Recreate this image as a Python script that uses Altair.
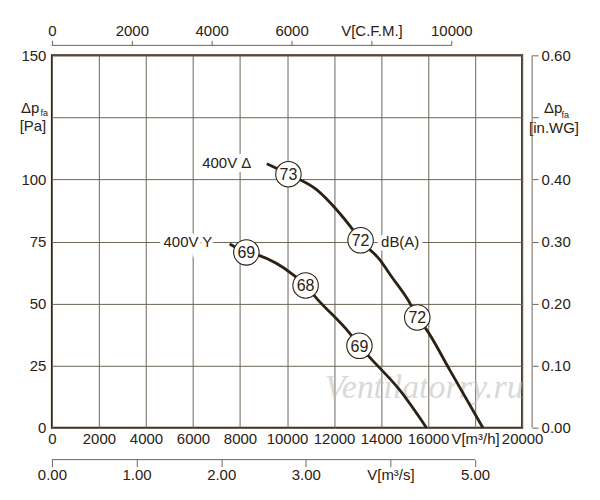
import altair as alt
import pandas as pd

# ---------------- data ----------------
flow_ticks = [0, 2000, 4000, 6000, 8000, 10000, 12000, 14000, 16000, 18000, 20000]
pa_ticks = [0, 25, 50, 75, 100, 125, 150]
cfm_ticks = [0, 2000, 4000, 6000, 8000, 10000]
m3s_ticks = [0, 1, 2, 3, 4, 5]
inwg_ticks = [0.0, 0.1, 0.2, 0.3, 0.4, 0.5, 0.6]

# 400V delta curve
delta_flow = [9140, 10060, 11270, 12110, 12750, 13130, 13950, 14450, 15230, 15540, 15940, 16920, 18330]
delta_pa = [106.3, 102.1, 95.8, 87.8, 80.4, 75.5, 67.6, 60.8, 50.1, 44.4, 39.4, 23.3, 0]
# 400V star curve
star_flow = [7560, 8270, 8830, 10250, 10790, 11240, 12660, 13080, 13510, 14780, 15930]
star_pa = [74.0, 70.6, 69.3, 61.7, 57.3, 52.3, 38.1, 33.0, 28.4, 15.3, 0]

# noise level markers dB(A)
noise_flow = [10060, 13130, 15540, 8270, 10790, 13080]
noise_pa = [102.1, 75.5, 44.4, 70.6, 57.3, 33.0]
noise_db = ["73", "72", "72", "69", "68", "69"]

# curve labels
rlabel_text = ["400V Δ", "400V Y"]
rlabel_flow = [8480, 6824]
rlabel_pa = [106.7, 75]
llabel_text = ["dB(A)"]
llabel_flow = [14000]
llabel_pa = [75]

watermark_text = ["Ventilatorry.ru"]
watermark_flow = [15840]
watermark_pa = [12.1]

M3H_PER_CFM = 1.699
M3H_PER_M3S = 3600.0

# ---------------- style ----------------
FONT = "Liberation Sans"
INK = "#2b2114"
GRID = "#6e6458"
W, H = 471, 373

xs = alt.Scale(domain=[0, 20000], nice=False, zero=False)
ys = alt.Scale(domain=[0, 150], nice=False, zero=False)

curves = pd.DataFrame({
    "flow": delta_flow + star_flow,
    "pa": delta_pa + star_pa,
    "series": ["delta"] * len(delta_flow) + ["star"] * len(star_flow),
})
noise = pd.DataFrame({"flow": noise_flow, "pa": noise_pa, "db": noise_db})
rlab = pd.DataFrame({"flow": rlabel_flow, "pa": rlabel_pa, "t": rlabel_text})
llab = pd.DataFrame({"flow": llabel_flow, "pa": llabel_pa, "t": llabel_text})
wm = pd.DataFrame({"flow": watermark_flow, "pa": watermark_pa, "t": watermark_text})
grid_df = pd.DataFrame({"flow": [flow_ticks[0], flow_ticks[-1]], "pa": [pa_ticks[0], pa_ticks[-1]]})


def X():
    return alt.X("flow:Q", scale=xs, axis=None)


def Y():
    return alt.Y("pa:Q", scale=ys, axis=None)


# main axes + grid (invisible carrier marks)
base_axes = alt.Chart(grid_df).mark_point(opacity=0).encode(
    x=alt.X("flow:Q", scale=xs,
            axis=alt.Axis(orient="bottom", values=flow_ticks, format="d",
                          labelExpr="datum.value == 18000 ? 'V[m³/h]' : datum.label",
                          grid=True, ticks=False, domain=False, labelPadding=4,
                          labelFontSize=15, labelColor=INK, labelFont=FONT,
                          gridColor=GRID, gridWidth=1, gridOpacity=1, title=None,
                          labelOverlap=False, labelFlush=False)),
    y=alt.Y("pa:Q", scale=ys,
            axis=alt.Axis(orient="left", values=pa_ticks, format="d",
                          labelExpr="datum.value == 125 ? '' : datum.label",
                          grid=True, ticks=False, domain=False, labelPadding=6,
                          labelFontSize=15, labelColor=INK, labelFont=FONT,
                          gridColor=GRID, gridWidth=1, gridOpacity=1, title=None,
                          labelOverlap=False, labelFlush=False)),
)

watermark = alt.Chart(wm).mark_text(font="Liberation Serif", fontStyle="italic", fontSize=34,
                                    color="#c0c0c0", opacity=0.6, align="center",
                                    baseline="alphabetic").encode(x=X(), y=Y(), text="t:N")

lines = alt.Chart(curves).mark_line(color=INK, strokeWidth=2.8, interpolate="monotone").encode(
    x=X(), y=Y(), detail="series:N")

circles = alt.Chart(noise).mark_point(shape="circle", filled=True, fill="white", stroke=INK,
                                      strokeWidth=1.1, size=650, opacity=1).encode(x=X(), y=Y())
circle_text = alt.Chart(noise).mark_text(fontSize=16, font=FONT, color=INK, baseline="middle",
                                         align="center", dy=1).encode(x=X(), y=Y(), text="db:N")


def halo_pair(df, align):
    halo = alt.Chart(df).mark_text(fontSize=15, font=FONT, color="white", stroke="white",
                                   strokeWidth=8, align=align, baseline="middle").encode(
        x=X(), y=Y(), text="t:N")
    txt = alt.Chart(df).mark_text(fontSize=15, font=FONT, color=INK, align=align,
                                  baseline="middle").encode(x=X(), y=Y(), text="t:N")
    return [halo, txt]


def unit_label(text, x, y, size, align):
    return alt.Chart(pd.DataFrame({"t": [text]})).mark_text(
        fontSize=size, font=FONT, color=INK, align=align, baseline="middle").encode(
        x=alt.value(x), y=alt.value(y), text="t:N")


units = [
    unit_label("Δp", -12.5, 53, 15, "right"),
    unit_label("fa", -11.5, 58, 9, "left"),
    unit_label("[Pa]", -19, 71, 15, "center"),
    unit_label("Δp", W + 22, 53, 15, "left"),
    unit_label("fa", W + 39.5, 60, 9, "left"),
    unit_label("[in.WG]", W + 32, 73, 15, "center"),
]

# top axis: C.F.M.
cfm = alt.Chart(pd.DataFrame({"a": [cfm_ticks[0]], "b": [cfm_ticks[-1]]})).mark_rule(
    color=GRID, strokeWidth=1).encode(
    x=alt.X("a:Q", scale=alt.Scale(domain=[0, 20000 / M3H_PER_CFM], nice=False, zero=False),
            axis=alt.Axis(orient="top", offset=10, values=cfm_ticks, format="d",
                          labelExpr="datum.value == 8000 ? 'V[C.F.M.]' : datum.label",
                          tickSize=5, tickColor=GRID, domain=False, grid=False,
                          labelPadding=2, title=None, labelFlush=False, labelOverlap=False,
                          labelFontSize=15, labelColor=INK, labelFont=FONT)),
    x2="b:Q",
    y=alt.value(-10),
)

# bottom axis: m3/s
m3s = alt.Chart(pd.DataFrame({"a": [m3s_ticks[0]], "b": [m3s_ticks[-1]]})).mark_rule(
    color=GRID, strokeWidth=1).encode(
    x=alt.X("a:Q", scale=alt.Scale(domain=[0, 20000 / M3H_PER_M3S], nice=False, zero=False),
            axis=alt.Axis(orient="bottom", offset=32, values=m3s_ticks, format=".2f",
                          labelExpr="datum.value == 4 ? 'V[m³/s]' : datum.label",
                          tickSize=7, tickColor=GRID, domain=False, grid=False,
                          labelPadding=1, title=None, labelFlush=False, labelOverlap=False,
                          labelFontSize=15, labelColor=INK, labelFont=FONT)),
    x2="b:Q",
    y=alt.value(H + 32),
)

# right axis: in.WG
inwg = alt.Chart(pd.DataFrame({"a": [inwg_ticks[0]], "b": [inwg_ticks[-1]]})).mark_rule(
    color=GRID, strokeWidth=1).encode(
    y=alt.Y("a:Q", scale=alt.Scale(domain=[0, 0.6], nice=False, zero=False),
            axis=alt.Axis(orient="right", offset=10, values=inwg_ticks, format=".2f",
                          labelExpr="datum.value == 0.5 ? '' : datum.label",
                          tickSize=6, tickColor=GRID, domain=False, grid=False,
                          labelPadding=3, title=None, labelFlush=False, labelOverlap=False,
                          labelFontSize=15, labelColor=INK, labelFont=FONT)),
    y2="b:Q",
    x=alt.value(W + 10),
)

chart = alt.layer(
    base_axes, watermark, lines, circles, circle_text,
    *halo_pair(rlab, "right"), *halo_pair(llab, "left"), *units,
    cfm, m3s, inwg,
).resolve_scale(
    x="independent", y="independent"
).properties(
    width=W, height=H,
    autosize=alt.AutoSizeParams(type="none"),
    padding={"left": 44, "top": 47, "right": 70, "bottom": 60},
    background="white",
).configure_view(stroke=INK, strokeWidth=2)

chart.save("out.html", embed_options={"renderer": "svg", "actions": False})
